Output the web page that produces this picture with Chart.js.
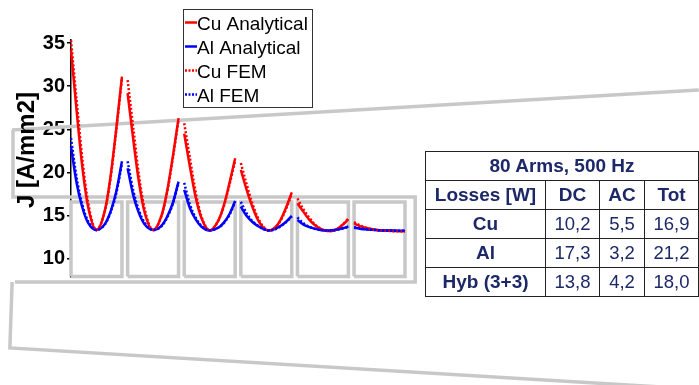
<!DOCTYPE html>
<html>
<head>
<meta charset="utf-8">
<script src="https://cdn.jsdelivr.net/npm/chart.js@4.4.1/dist/chart.umd.min.js"></script>
<style>
    html, body { margin: 0; padding: 0; background: #fff; }
    #wrap { position: relative; width: 699px; height: 385px; overflow: hidden; }
    #chart { position: absolute; left: 0; top: 0; }
    #losses {
        position: absolute; left: 425px; top: 151px; width: 273px;
        border-collapse: collapse; table-layout: fixed;
        font-family: 'Liberation Sans', Arial, sans-serif; font-size: 18.5px; color: #1c2868;
    }
    #losses td { border: 1.5px solid #222; text-align: center; padding: 0; height: 28px; line-height: 20px; }
    #losses .b { font-weight: bold; font-size: 19px; }
</style>
</head>
<body>
<div id="wrap">
    <canvas id="chart" width="699" height="385"></canvas>
    <table id="losses">
        <colgroup><col style="width:120px"><col style="width:54px"><col style="width:45px"><col style="width:54px"></colgroup>
        <tbody id="lossBody"></tbody>
    </table>
</div>
<script>
// x positions (mm across the six conductors), one list per conductor
const segX = [
    [0, 1, 2, 3, 4.5, 6, 7, 8, 9],
    [10, 11, 12, 13, 14.5, 16, 17, 18, 19],
    [20, 21, 22, 23, 24.5, 26, 27, 28, 29],
    [30, 31, 32, 33, 34, 35, 36, 37, 38, 39],
    [40, 41, 42, 43, 44, 45, 46, 47, 48, 49],
    [50, 51, 52, 53, 54, 55, 56, 57, 58, 59],
];

const cuAnalytical = [
    [34.2, 27.1, 20.65, 16.1, 13.35, 15.65, 19.6, 25.1, 31.1],
    [29.2, 23.8, 18.9, 15.4, 13.35, 15.05, 17.9, 21.9, 26.3],
    [24.5, 20.7, 17.2, 14.8, 13.3, 14.4, 16.2, 18.8, 21.65],
    [20.3, 18.05, 16.1, 14.55, 13.6, 13.3, 13.6, 14.5, 15.95, 17.7],
    [16.45, 15.5, 14.6, 13.95, 13.5, 13.25, 13.22, 13.45, 13.95, 14.6],
    [14.1, 13.8, 13.6, 13.45, 13.35, 13.3, 13.25, 13.22, 13.2, 13.2],
];
const alAnalytical = [
    [23.0, 18.75, 15.95, 14.2, 13.35, 14.05, 15.5, 17.8, 21.3],
    [20.5, 17.35, 15.3, 14.0, 13.35, 13.85, 14.9, 16.5, 18.95],
    [18.0, 15.9, 14.6, 13.75, 13.3, 13.6, 14.2, 15.2, 16.7],
    [16.05, 15.0, 14.3, 13.8, 13.45, 13.3, 13.45, 13.8, 14.3, 14.98],
    [14.5, 14.0, 13.7, 13.5, 13.35, 13.3, 13.32, 13.4, 13.55, 13.75],
    [13.6, 13.5, 13.42, 13.37, 13.33, 13.3, 13.3, 13.28, 13.27, 13.27],
];
const cuFem = [
    [35.3, 28.3, 21.6, 16.6, 13.35, 15.6, 19.4, 24.9, 30.9],
    [30.7, 25.2, 19.7, 15.8, 13.35, 15.0, 17.8, 21.7, 26.1],
    [25.7, 21.7, 17.8, 15.0, 13.3, 14.4, 16.1, 18.6, 21.4],
    [21.1, 18.7, 16.5, 14.8, 13.7, 13.3, 13.55, 14.4, 15.8, 17.5],
    [17.0, 15.8, 14.85, 14.05, 13.55, 13.28, 13.22, 13.45, 13.98, 14.65],
    [14.25, 13.9, 13.65, 13.45, 13.35, 13.3, 13.25, 13.2, 13.2, 13.15],
];
const alFem = [
    [24.0, 19.4, 16.3, 14.4, 13.35, 14.0, 15.4, 17.6, 21.0],
    [21.3, 17.9, 15.6, 14.2, 13.35, 13.8, 14.8, 16.4, 18.8],
    [18.8, 16.3, 14.8, 13.85, 13.3, 13.6, 14.15, 15.1, 16.6],
    [16.6, 15.3, 14.4, 13.85, 13.45, 13.3, 13.4, 13.75, 14.25, 14.9],
    [14.8, 14.15, 13.75, 13.5, 13.35, 13.3, 13.3, 13.38, 13.52, 13.7],
    [13.7, 13.55, 13.45, 13.38, 13.33, 13.3, 13.28, 13.27, 13.26, 13.25],
];

const yTicks = [10, 15, 20, 25, 30, 35];

// conductor cross-sections (mm, A/mm2 axis units)
const condLeft = [0, 10, 20, 30, 40, 50];
const condRight = [9, 19, 29, 39, 49, 59];
const condTop = 16.6;
const condBottom = 7.95;

// slot outline sketched behind the plot
const slotOutline = [
    [[-10.4, 24.93], [110.9, 29.56]],
    [[-10.25, 24.93], [-10.25, 17.17], [60.8, 17.17], [60.8, 7.32], [-9.9, 7.32]],
    [[-10.4, 7.32], [-10.8, -0.32], [110.9, -5.1]],
];

const lossHead = ['Losses [W]', 'DC', 'AC', 'Tot'];
const lossRows = ['Cu', 'Al', 'Hyb (3+3)'];
const lossDC = ['10,2', '17,3', '13,8'];
const lossAC = ['5,5', '3,2', '4,2'];
const lossTot = ['16,9', '21,2', '18,0'];

function joinSegments(values) {
    const pts = [];
    segX.forEach((xs, s) => {
        xs.forEach((x, i) => pts.push({ x, y: values[s][i] }));
        pts.push({ x: xs[xs.length - 1] + 0.5, y: null });
    });
    return pts;
}

function polyPoints(lines) {
    const pts = [];
    lines.forEach((line) => {
        line.forEach(([x, y]) => pts.push({ x, y }));
        pts.push({ x: line[line.length - 1][0], y: null });
    });
    return pts;
}

const condLines = condLeft.map((l, i) => [
    [l, condBottom], [l, condTop], [condRight[i], condTop], [condRight[i], condBottom], [l, condBottom],
]);

const FONT = "'Liberation Sans', Arial, sans-serif";

const curve = (label, values, color, dashed, order) => ({
    label,
    data: joinSegments(values),
    borderColor: color,
    borderWidth: 2.5,
    borderDash: dashed ? [2, 2] : [],
    pointRadius: 0,
    cubicInterpolationMode: 'monotone',
    spanGaps: false,
    clip: false,
    order,
});

const sketch = (data) => ({
    label: '',
    data,
    borderColor: '#c8c8c8',
    borderWidth: 3.5,
    pointRadius: 0,
    tension: 0,
    spanGaps: false,
    clip: false,
    order: 10,
    sketch: true,
});

const legendBox = {
    id: 'legendBox',
    afterDraw(chart) {
        const ctx = chart.ctx;
        ctx.save();
        ctx.fillStyle = '#fff';
        ctx.fillRect(183.5, 9.5, 129, 98);
        ctx.strokeStyle = '#333';
        ctx.lineWidth = 1;
        ctx.strokeRect(183.5, 9.5, 129, 98);
        ctx.font = '19px ' + FONT;
        ctx.fillStyle = '#000';
        ctx.textBaseline = 'alphabetic';
        chart.data.datasets.filter((d) => !d.sketch).forEach((d, i) => {
            const base = 30 + i * 24;
            ctx.strokeStyle = d.borderColor;
            ctx.lineWidth = 2.5;
            ctx.setLineDash(d.borderDash.length ? [2, 1.5] : []);
            ctx.beginPath();
            ctx.moveTo(185, base - 7.5);
            ctx.lineTo(197, base - 7.5);
            ctx.stroke();
            ctx.fillText(d.label, 197, base);
        });
        ctx.setLineDash([]);
        // y axis title
        ctx.translate(34, 150);
        ctx.rotate(-Math.PI / 2);
        ctx.font = 'bold 24px ' + FONT;
        ctx.textAlign = 'center';
        ctx.fillText('J [A/mm2]', 0, 0);
        ctx.restore();
    },
};

new Chart(document.getElementById('chart'), {
    type: 'line',
    data: {
        datasets: [
            curve('Cu Analytical', cuAnalytical, '#ff0000', false, 4),
            curve('Al Analytical', alAnalytical, '#0000ff', false, 3),
            curve('Cu FEM', cuFem, '#ff0000', true, 2),
            curve('Al FEM', alFem, '#0000ff', true, 1),
            sketch(polyPoints(slotOutline)),
            sketch(polyPoints(condLines)),
        ],
    },
    options: {
        responsive: false,
        animation: false,
        events: [],
        layout: { padding: { left: 0, right: 294, top: 40, bottom: 108 } },
        plugins: { legend: { display: false }, tooltip: { enabled: false } },
        scales: {
            x: { type: 'linear', min: 0, max: 59, display: false },
            y: {
                min: 7.9,
                max: 35.35,
                afterFit: (scale) => { scale.width = 71; },
                afterBuildTicks: (scale) => {
                    scale.ticks = yTicks.map((value) => ({ value }));
                },
                border: { display: true, color: '#000', width: 1.5 },
                grid: { drawOnChartArea: false, drawTicks: true, tickLength: 4, color: '#000', lineWidth: 1.5 },
                ticks: { color: '#000', padding: 2, font: { family: FONT, size: 20, weight: 'bold' } },
            },
        },
    },
    plugins: [legendBox],
});

// losses table
const body = document.getElementById('lossBody');
const addRow = (cells) => {
    const tr = document.createElement('tr');
    cells.forEach(([text, bold, span]) => {
        const td = document.createElement('td');
        td.textContent = text;
        if (bold) td.className = 'b';
        if (span) td.colSpan = span;
        tr.appendChild(td);
    });
    body.appendChild(tr);
};
addRow([['80 Arms, 500 Hz', true, 4]]);
addRow(lossHead.map((h) => [h, true]));
lossRows.forEach((r, i) => addRow([[r, true], [lossDC[i]], [lossAC[i]], [lossTot[i]]]));
</script>
</body>
</html>
